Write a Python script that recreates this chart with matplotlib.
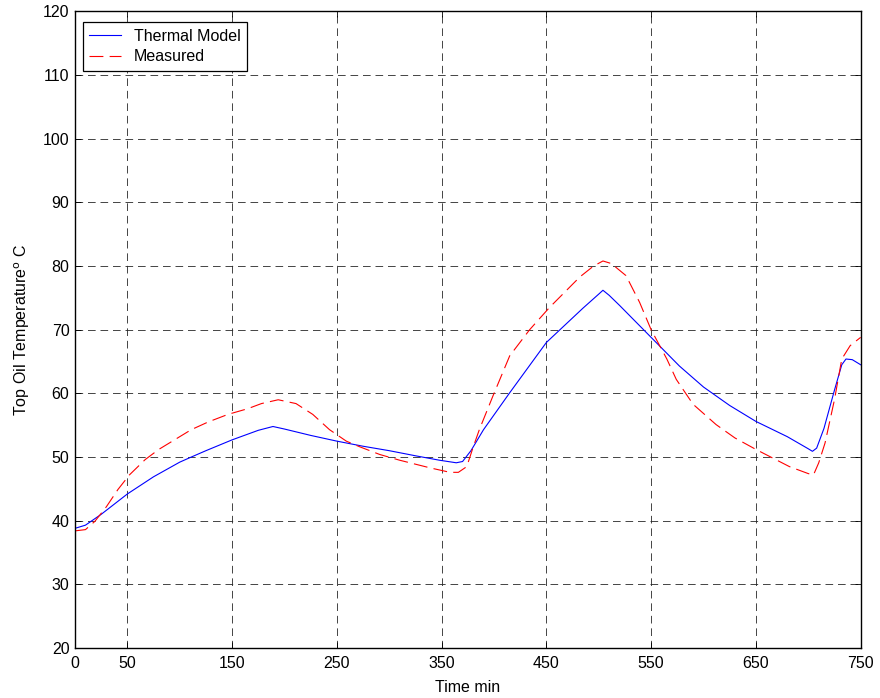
import matplotlib
matplotlib.use('Agg')
import matplotlib.pyplot as plt

plt.rcParams['font.family'] = ['Liberation Sans', 'DejaVu Sans']
plt.rcParams['lines.scale_dashes'] = False

# Thermal model
model_t = [0, 10, 25, 50, 75, 100, 111, 125, 150, 175, 189, 200, 225, 250, 275, 300,
           325, 348, 364, 370, 378, 390, 415, 450, 485, 500, 504, 510, 520, 550, 577,
           600, 625, 650, 680, 700, 704, 708, 715, 725, 732, 736, 742, 750]
model_y = [38.8, 39.3, 41.0, 44.2, 46.9, 49.2, 50.0, 51.0, 52.7, 54.2, 54.8, 54.4, 53.4, 52.5, 51.7, 51.0,
           50.2, 49.5, 49.1, 49.3, 51.0, 54.3, 60.1, 68.0, 73.4, 75.6, 76.2, 75.4, 73.8, 68.8, 64.3,
           61.0, 58.1, 55.6, 53.2, 51.3, 50.9, 51.4, 54.5, 60.5, 64.5, 65.4, 65.3, 64.5]

# Measured
meas_t = [0, 10, 19, 30, 41, 52, 67, 80, 95, 111, 127, 146, 165, 178, 194, 211, 227, 243,
          259, 272, 291, 310, 339, 358, 366, 374, 380, 386, 399, 415, 434, 453, 482, 495,
          504, 512, 526, 539, 550, 565, 574, 590, 612, 630, 650, 682, 700, 705, 710, 716,
          725, 732, 740, 750]
meas_y = [38.4, 38.6, 39.9, 42.2, 44.9, 47.2, 49.6, 51.2, 52.7, 54.3, 55.5, 56.7, 57.6, 58.4, 59.0, 58.4, 56.7, 54.3,
          52.5, 51.6, 50.4, 49.5, 48.3, 47.6, 47.6, 48.5, 51.5, 54.3, 59.6, 65.9, 70.0, 73.5, 78.3, 80.0,
          80.8, 80.4, 78.5, 74.3, 70.0, 65.4, 62.2, 58.3, 55.1, 53.0, 51.2, 48.5, 47.4, 47.2, 49.1, 52.2,
          59.0, 65.4, 67.5, 68.8]

xticks = [0, 50, 150, 250, 350, 450, 550, 650, 750]
yticks = list(range(20, 121, 10))

fig = plt.figure(figsize=(8.8, 6.98), dpi=100)
ax = fig.add_axes([0.0852, 0.0716, 0.8928, 0.912])

ax.plot(model_t, model_y, color='blue', lw=0.8, label='Thermal Model')
ax.plot(meas_t, meas_y, color='red', lw=0.8, dashes=(10, 4.5), label='Measured')

ax.set_xlim(0, 750)
ax.set_ylim(20, 120)
ax.set_xticks(xticks)
ax.set_yticks(yticks)
ax.tick_params(direction='in', top=True, right=True, labelsize=11.5, length=4, width=0.6, pad=4)
ax.tick_params(axis='x', pad=6)
ax.grid(True, color='0.15', lw=0.6, dashes=(5.5, 3.5))
for s in ax.spines.values():
    s.set_linewidth(1.0)

ax.set_xlabel('Time min', fontsize=11.5, labelpad=6)
ax.set_ylabel('Top Oil Temperature$^{\\mathrm{o}}$ C', fontsize=11.5, labelpad=8)

leg = ax.legend(loc='upper left', bbox_to_anchor=(0.0102, 0.983), fontsize=11.5,
                fancybox=False, framealpha=1, edgecolor='black', borderaxespad=0,
                handlelength=2.0, handletextpad=0.8, borderpad=0.4, labelspacing=0.35)
leg.get_frame().set_linewidth(0.9)

fig.savefig('out.png', dpi=100)
